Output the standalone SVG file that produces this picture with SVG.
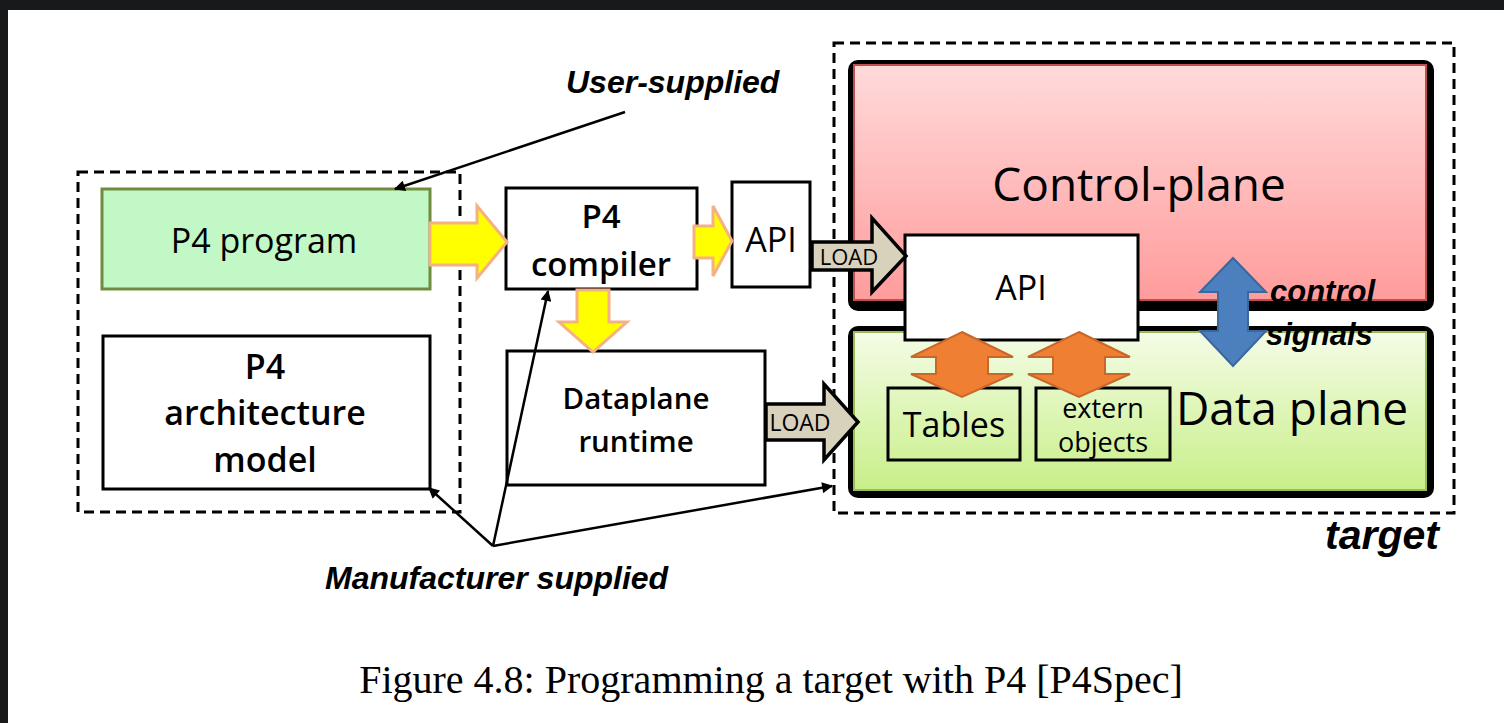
<svg xmlns="http://www.w3.org/2000/svg" width="1504" height="723" viewBox="0 0 1504 723">
  <defs>
    <linearGradient id="cpGrad" x1="0" y1="0" x2="0" y2="1">
      <stop offset="0" stop-color="#ffdada"/>
      <stop offset="1" stop-color="#ff9c9c"/>
    </linearGradient>
    <linearGradient id="dpGrad" x1="0" y1="0" x2="0" y2="1">
      <stop offset="0" stop-color="#f4fce6"/>
      <stop offset="1" stop-color="#c8ef88"/>
    </linearGradient>
    <marker id="arrBig" viewBox="0 0 10 10" refX="9" refY="5" markerWidth="13" markerHeight="11" orient="auto" markerUnits="userSpaceOnUse">
      <path d="M0,0 L10,5 L0,10 z" fill="#000"/>
    </marker>
  </defs>
  <style>
    .box { fill: #fff; stroke: #000; stroke-width: 3; }
    .dash { fill: none; stroke: #000; stroke-width: 3; stroke-dasharray: 10 6; }
    .lbl { font-family: "Open Sans", Lato, "Liberation Sans", sans-serif; fill: #000; text-anchor: middle; }
    .bold { font-weight: 600; }
    .note { font-family: "Liberation Sans", Arial, sans-serif; font-style: italic; font-weight: bold; fill: #000; }
    .yellow { fill: #ffff00; stroke: #f4b183; stroke-width: 3; stroke-linejoin: miter; }
    .load { fill: #d8d2bd; stroke: #000; stroke-width: 3.5; stroke-linejoin: miter; }
    .orange { fill: #ef7f33; stroke: #c9672a; stroke-width: 2; }
    .blue { fill: #4b7fbd; stroke: #3a679c; stroke-width: 2; }
    .ptr { fill: none; stroke: #000; stroke-width: 2.5; }
  </style>

  <!-- page frame -->
  <rect x="0" y="0" width="1504" height="723" fill="#fff"/>
  <rect x="0" y="0" width="1504" height="10" fill="#18191b"/>
  <rect x="0" y="0" width="8" height="723" fill="#18191b"/>

  <!-- grouping frames -->
  <rect id="userFrame" class="dash" x="78" y="172" width="382" height="340"/>
  <rect id="targetFrame" class="dash" x="834" y="43" width="620" height="470"/>

  <!-- control plane -->
  <g id="controlPlane">
    <rect x="848" y="60" width="586" height="251" rx="10" fill="#000"/>
    <rect x="854" y="65" width="572" height="235" fill="url(#cpGrad)" stroke="#c0504d" stroke-width="2"/>
    <text class="lbl" x="1139" y="201" font-size="46">Control-plane</text>
  </g>

  <!-- data plane -->
  <g id="dataPlane">
    <rect x="848" y="326" width="586" height="172" rx="10" fill="#000"/>
    <rect x="854" y="332" width="572" height="158" fill="url(#dpGrad)" stroke="#9bbb59" stroke-width="2"/>
    <text class="lbl" x="1292" y="425" font-size="46">Data plane</text>
  </g>

  <g id="p4program">
    <rect x="102" y="189" width="328" height="100" fill="#c2f7c6" stroke="#6f8c3f" stroke-width="3"/>
    <text class="lbl" x="264" y="253" font-size="34">P4 program</text>
  </g>

  <g id="archModel">
    <rect class="box" x="103" y="336" width="327" height="153"/>
    <text class="lbl bold" x="265" y="379" font-size="34">P4</text>
    <text class="lbl bold" x="265" y="425" font-size="34">architecture</text>
    <text class="lbl bold" x="265" y="472" font-size="34">model</text>
  </g>

  <g id="compiler">
    <rect class="box" x="506" y="188" width="191" height="101"/>
    <text class="lbl bold" x="601" y="228" font-size="33">P4</text>
    <text class="lbl bold" x="601" y="276" font-size="33">compiler</text>
  </g>

  <g id="apiGen">
    <rect class="box" x="732" y="182" width="78" height="105"/>
    <text class="lbl" x="771" y="252" font-size="34">API</text>
  </g>

  <g id="runtime">
    <rect class="box" x="507" y="351" width="258" height="134"/>
    <text class="lbl bold" x="636" y="409" font-size="29.5">Dataplane</text>
    <text class="lbl bold" x="636" y="452" font-size="29.5">runtime</text>
  </g>

  <g id="tables">
    <rect x="888" y="388" width="132" height="72" fill="none" stroke="#000" stroke-width="3"/>
    <text class="lbl" x="954" y="437" font-size="34">Tables</text>
  </g>

  <g id="externs">
    <rect x="1036" y="388" width="134" height="72" fill="none" stroke="#000" stroke-width="3"/>
    <text class="lbl" x="1103" y="418" font-size="27">extern</text>
    <text class="lbl" x="1103" y="452" font-size="27">objects</text>
  </g>

  <g id="apiTarget">
    <rect class="box" x="905" y="235" width="233" height="105"/>
    <text class="lbl" x="1021" y="300" font-size="34">API</text>
  </g>

  <!-- flow arrows and pointers -->
  <g id="connectors">
    <polygon class="yellow" points="430,223 477,223 477,206 507,242 477,278 477,265 430,265"/>
    <polygon class="yellow" points="694,226 713,226 713,206 732,241 713,276 713,258 694,258"/>
    <polygon class="yellow" points="577,290 609,290 609,322 627,322 593,352 559,322 577,322"/>

    <polygon class="load" points="812,242 872,242 872,218 906,256 872,292 872,270 812,270"/>
    <text class="lbl" x="849" y="265" font-size="22">LOAD</text>
    <polygon class="load" points="766,404 824,404 824,384 858,422 824,460 824,440 766,440"/>
    <text class="lbl" x="800" y="431" font-size="23">LOAD</text>

    <polygon class="orange" points="962,332 1013,357 988,357 988,374 1013,374 962,397 911,374 936,374 936,357 911,357"/>
    <polygon class="orange" points="1079,332 1130,357 1105,357 1105,374 1130,374 1079,397 1028,374 1053,374 1053,357 1028,357"/>

    <polygon class="blue" points="1233,258 1266,292 1248,292 1248,331 1266,331 1233,366 1200,331 1218,331 1218,292 1200,292"/>

    <line class="ptr" x1="625" y1="112" x2="395" y2="189" marker-end="url(#arrBig)"/>
    <line class="ptr" x1="493" y1="546" x2="429" y2="488" marker-end="url(#arrBig)"/>
    <line class="ptr" x1="493" y1="546" x2="548" y2="291" marker-end="url(#arrBig)"/>
    <line class="ptr" x1="493" y1="546" x2="832" y2="486" marker-end="url(#arrBig)"/>
  </g>

  <!-- annotations -->
  <text class="note" x="566" y="93" font-size="32">User-supplied</text>
  <text class="note" x="325" y="589" font-size="32">Manufacturer  supplied</text>
  <text class="note" x="1325" y="549" font-size="41">target</text>
  <text class="note" x="1270" y="302" font-size="31" fill="#222">control</text>
  <text class="note" x="1266" y="345" font-size="31" fill="#222">signals</text>

  <text x="771" y="693" font-family="'Liberation Serif', 'Times New Roman', serif" font-size="40" text-anchor="middle" fill="#000">Figure 4.8: Programming a target with P4 [P4Spec]</text>
</svg>
